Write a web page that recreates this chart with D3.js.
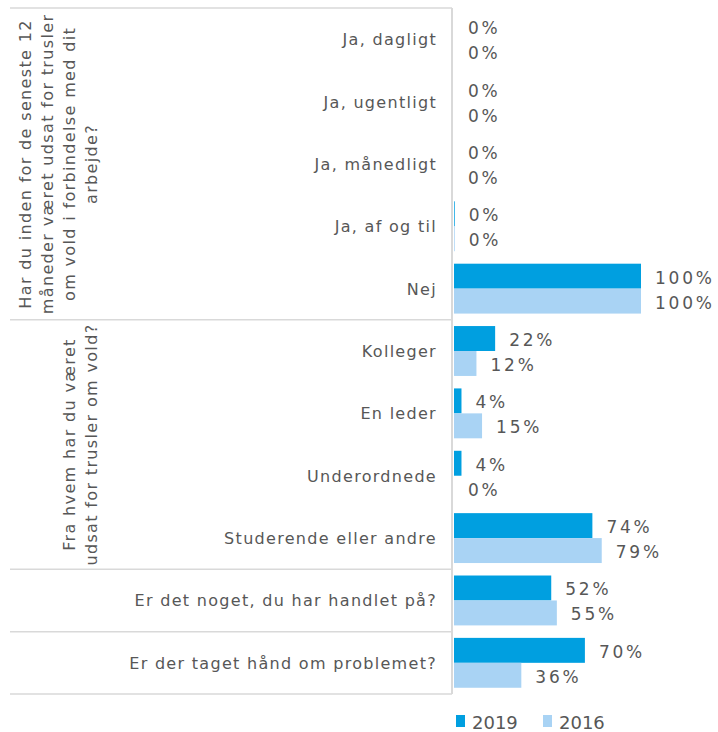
<!DOCTYPE html>
<html>
<head>
<meta charset="utf-8">
<script src="https://cdn.jsdelivr.net/npm/d3@7/dist/d3.min.js"></script>
<style>
  html, body { margin: 0; padding: 0; background: #fff; }
  svg { display: block; }
  text { font-family: "DejaVu Sans", Verdana, sans-serif; fill: #575757; }
</style>
</head>
<body>
<svg id="chart" width="718" height="732"></svg>
<script>
// Answer categories, top to bottom
const categories = [
  "Ja, dagligt",
  "Ja, ugentligt",
  "Ja, månedligt",
  "Ja, af og til",
  "Nej",
  "Kolleger",
  "En leder",
  "Underordnede",
  "Studerende eller andre",
  "Er det noget, du har handlet på?",
  "Er der taget hånd om problemet?"
];

// Share of respondents (%) per survey year
const series = ["2019", "2016"];
const values2019 = [0, 0, 0, 0.4, 100, 22, 4, 4, 74, 52, 70];
const values2016 = [0, 0, 0, 0.4, 100, 12, 15, 0, 79, 55, 36];

// Question groups: index of the first category in each group
const groupStarts = [0, 5, 9, 10];
const groupTitle1 = [
  "Har du inden for de seneste 12",
  "måneder været udsat for trusler",
  "om vold i forbindelse med dit",
  "arbejde?"
];
const groupTitle2 = [
  "Fra hvem har du været",
  "udsat for trusler om vold?"
];
const groupTitles = [groupTitle1, groupTitle2, [], []];

const colors = { "2019": "#009fe0", "2016": "#a9d3f4" };
const gridColor = "#d9d9d9";

const svg = d3.select("#chart");

const y = d3.scaleBand().domain(categories).range([8, 694]).padding(0);
const ySub = d3.scaleBand().domain(series).range([0, y.bandwidth()]).paddingInner(0).paddingOuter(0.25);
const x = d3.scaleLinear().domain([0, 100]).range([454, 641]);

const rows = categories.map((c, i) => ({ cat: c, "2019": values2019[i], "2016": values2016[i] }));

// Group separator lines
const sepY = groupStarts.map(i => y(categories[i])).concat([y.range()[1]]);
svg.append("g")
  .selectAll("line")
  .data(sepY)
  .join("line")
  .attr("x1", 10).attr("x2", 452)
  .attr("y1", d => d).attr("y2", d => d)
  .attr("stroke", gridColor).attr("stroke-width", 1.5);

// Category axis line
svg.append("line")
  .attr("x1", 452).attr("x2", 452)
  .attr("y1", y.range()[0]).attr("y2", y.range()[1])
  .attr("stroke", gridColor).attr("stroke-width", 2);

// Bars
const rowG = svg.append("g")
  .selectAll("g")
  .data(rows)
  .join("g")
  .attr("transform", d => `translate(0,${y(d.cat)})`);

rowG.selectAll("rect")
  .data(d => series.map(s => ({ s, v: d[s] })))
  .join("rect")
  .attr("x", x(0))
  .attr("y", d => ySub(d.s))
  .attr("width", d => x(d.v) - x(0))
  .attr("height", ySub.bandwidth())
  .attr("fill", d => colors[d.s]);

// Value labels
rowG.selectAll("text.val")
  .data(d => series.map(s => ({ s, v: d[s] })))
  .join("text")
  .attr("class", "val")
  .attr("x", d => x(d.v) + 14)
  .attr("y", d => ySub(d.s) + ySub.bandwidth() / 2 + 7.5)
  .attr("font-size", 17)
  .attr("letter-spacing", 2.8)
  .text(d => d3.format(".0f")(d.v) + "%");

// Category labels
svg.append("g")
  .selectAll("text")
  .data(categories)
  .join("text")
  .attr("x", 437)
  .attr("y", d => y(d) + y.bandwidth() / 2 + 6)
  .attr("text-anchor", "end")
  .attr("font-size", 16)
  .attr("letter-spacing", 1.3)
  .text(d => d);

// Rotated group titles
groupTitles.forEach((lines, gi) => {
  if (!lines.length) return;
  const start = y(categories[groupStarts[gi]]);
  const end = sepY[gi + 1];
  const cy = (start + end) / 2;
  const n = lines.length;
  lines.forEach((line, li) => {
    const bx = 97 - (n - 1 - li) * 22;
    svg.append("text")
      .attr("transform", `translate(${bx},${cy}) rotate(-90)`)
      .attr("text-anchor", "middle")
      .attr("font-size", 16)
      .attr("letter-spacing", 1.35)
      .text(line);
  });
});

// Legend
const legend = svg.append("g").attr("transform", "translate(456,715)");
const legendItems = legend.selectAll("g")
  .data(series)
  .join("g")
  .attr("transform", (d, i) => `translate(${i * 87},0)`);
legendItems.append("rect")
  .attr("width", 9).attr("height", 12)
  .attr("fill", d => colors[d]);
legendItems.append("text")
  .attr("x", 16).attr("y", 14)
  .attr("font-size", 18)
  .text(d => d);
</script>
</body>
</html>
